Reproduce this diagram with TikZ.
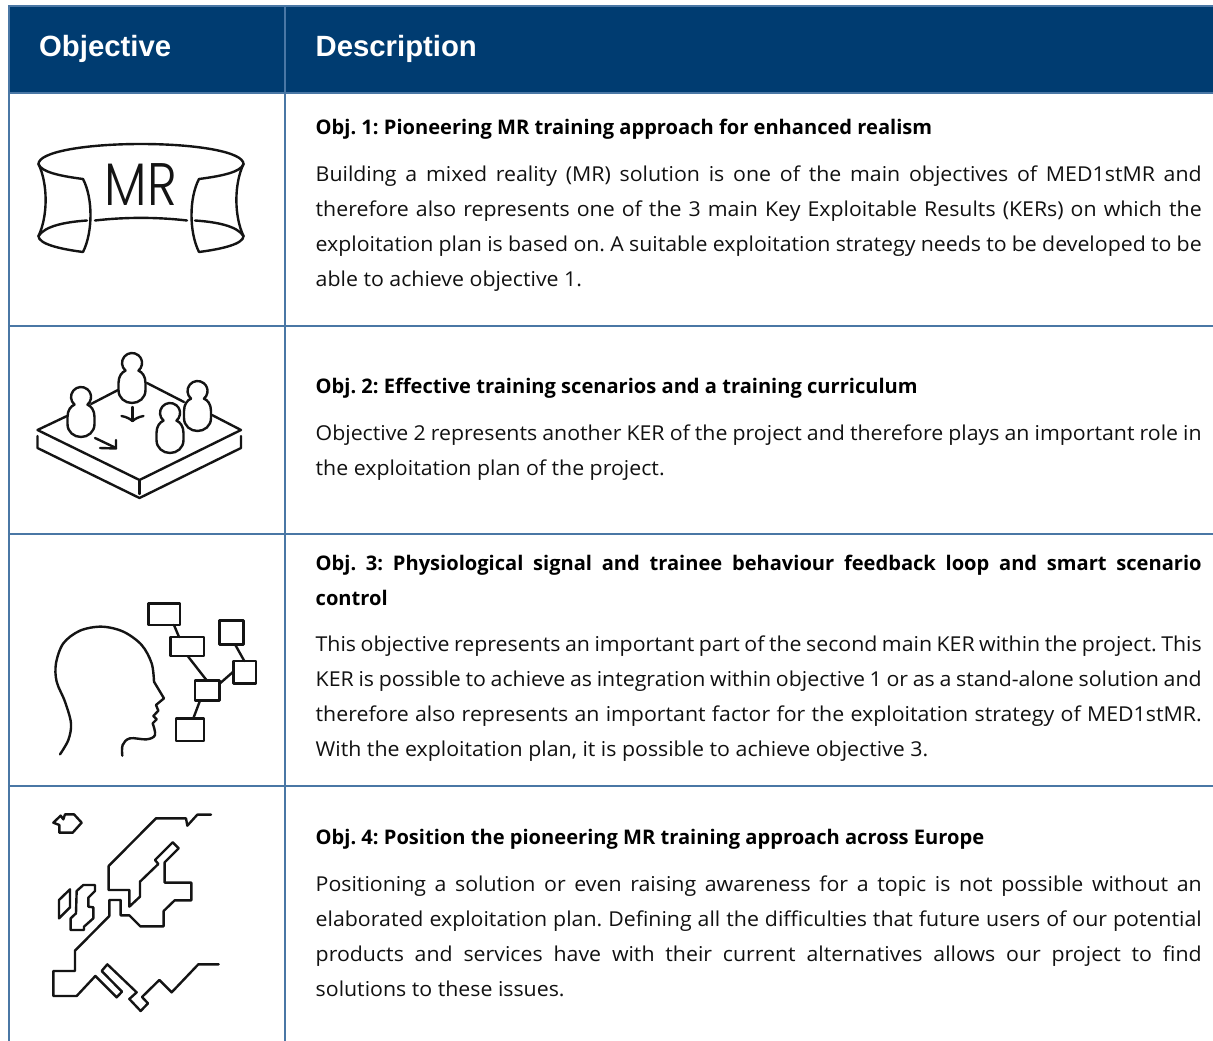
\documentclass[tikz,border=0pt]{standalone}
\usepackage{fontspec}
\setmainfont{Open Sans}
\newfontfamily\bodyfont[FakeStretch=1.04]{Open Sans}
\newfontfamily\headfont{Liberation Sans}
\newfontfamily\mrfont{Poppins Light}
\definecolor{hdr}{HTML}{003C71}
\definecolor{rule}{HTML}{4A77A5}
\definecolor{ink}{HTML}{111111}
\newcommand{\jline}[1]{\hbox to 886pt{#1}}
\frenchspacing
\tikzset{
  x=1pt,y=-1pt,
  bodytext/.style={anchor=base west,inner sep=0pt,text=ink,yshift=-0.5pt,font=\bodyfont\fontsize{20.5}{22}\selectfont},
  titletext/.style={anchor=base west,inner sep=0pt,text=black,font=\fontsize{20.1}{22}\selectfont\bfseries},
  headtext/.style={anchor=base west,inner sep=0pt,text=white,font=\headfont\fontsize{29.3}{32}\selectfont\bfseries},
  gridline/.style={draw=rule,line width=2pt},
  icon/.style={draw=black!92,line width=2.4pt,line join=round,line cap=round},
  person/.pic={
    \draw[icon,fill=white] (-6.4,7.66) arc[start angle=130,end angle=410,radius=10]
      .. controls (10,9) and (13.5,13) .. (13.5,20)
      -- (13.5,27) .. controls (13.5,35) and (7,40) .. (0,40)
      .. controls (-7,40) and (-13.5,35) .. (-13.5,27)
      -- (-13.5,20) .. controls (-13.5,13) and (-10,9) .. (-6.4,7.66);
  }
}
\begin{document}
\begin{tikzpicture}
\useasboundingbox (0,0) rectangle (1213,1041);
\fill[white] (0,0) rectangle (1213,1041);
% header
\fill[hdr] (9,6) rectangle (1213,93);
% grid
\draw[gridline] (1213,6) -- (9,6) -- (9,1041);
\draw[gridline] (285,6) -- (285,1041);
\draw[gridline] (9,93) -- (1213,93);
\draw[gridline] (9,326) -- (1213,326);
\draw[gridline] (9,534) -- (1213,534);
\draw[gridline] (9,786) -- (1213,786);
% header text
\node[headtext] (hobj) at (39,56.5) {Objective};
\node[headtext] (hdesc) at (315.5,56.5) {Description};
% Obj 1
\node[titletext] (t1) at (315.5,134) {Obj. 1: Pioneering MR training approach for enhanced realism};
\node[bodytext] (l11) at (315.5,180.5) {\jline{Building a mixed reality (MR) solution is one of the main objectives of MED1stMR and}};
\node[bodytext] (l12) at (315.5,215.7) {\jline{therefore also represents one of the 3 main Key Exploitable Results (KERs) on which the}};
\node[bodytext] (l13) at (315.5,250.9) {\jline{exploitation plan is based on. A suitable exploitation strategy needs to be developed to be}};
\node[bodytext] (l14) at (315.5,286) {able to achieve objective 1.};
% Obj 2
\node[titletext] (t2) at (315.5,393) {Obj. 2: Effective training scenarios and a training curriculum};
\node[bodytext] (l21) at (315.5,439.5) {\jline{Objective 2 represents another KER of the project and therefore plays an important role in}};
\node[bodytext] (l22) at (315.5,474.5) {the exploitation plan of the project.};
% Obj 3
\node[titletext] (t3) at (315.5,570) {\jline{Obj. 3: Physiological signal and trainee behaviour feedback loop and smart scenario}};
\node[titletext] (t3b) at (315.5,605) {control};
\node[bodytext] (l31) at (315.5,651) {\jline{This objective represents an important part of the second main KER within the project. This}};
\node[bodytext] (l32) at (315.5,686) {\jline{KER is possible to achieve as integration within objective 1 or as a stand-alone solution and}};
\node[bodytext] (l33) at (315.5,721) {\jline{therefore also represents an important factor for the exploitation strategy of MED1stMR.}};
\node[bodytext] (l34) at (315.5,756) {With the exploitation plan, it is possible to achieve objective 3.};
% Obj 4
\node[titletext] (t4) at (315.5,844) {Obj. 4: Position the pioneering MR training approach across Europe};
\node[bodytext] (l41) at (315.5,891) {\jline{Positioning a solution or even raising awareness for a topic is not possible without an}};
\node[bodytext] (l42) at (315.5,926) {\jline{elaborated exploitation plan. Defining all the difficulties that future users of our potential}};
\node[bodytext] (l43) at (315.5,961) {\jline{products and services have with their current alternatives allows our project to find}};
\node[bodytext] (l44) at (315.5,996) {solutions to these issues.};
% MR icon
\node[anchor=base,inner sep=0pt,text=black!92,transform shape,xscale=0.84,font=\mrfont\fontsize{60}{60}\selectfont] (mr) at (141,205) {MR};
\draw[icon] (38.5,164) .. controls (38.5,152) and (85,144) .. (141,144) .. controls (197,144) and (243.5,152) .. (243.5,164);
\draw[icon] (38.5,164) .. controls (41,172) and (60,176) .. (83,179) .. controls (93,198) and (93,232) .. (83,252) .. controls (60,249) and (38.5,244) .. (38.5,236);
\draw[icon] (38.5,164) .. controls (48,184) and (48,216) .. (38.5,236);
\draw[icon] (38.5,236) .. controls (45,226) and (65,222) .. (87,220.5);
\draw[icon] (95,220.5) .. controls (125,217) and (157,217) .. (187,220.5);
\draw[icon] (243.5,164) .. controls (241,172) and (222,176) .. (199,179) .. controls (189,198) and (189,232) .. (199,252) .. controls (222,249) and (243.5,244) .. (243.5,236);
\draw[icon] (243.5,164) .. controls (234,184) and (234,216) .. (243.5,236);
\draw[icon] (243.5,236) .. controls (237,226) and (217,222) .. (195,220.5);
% Platform icon
\draw[icon] (67,416) -- (37.5,430) -- (139.5,480) -- (241,430) -- (212,415);
\draw[icon] (91,404) -- (118,390);
\draw[icon] (147,383) -- (184,402);
\draw[icon] (37.5,436) -- (37.5,448) -- (139.5,498) -- (241,448) -- (241,436);
\draw[icon] (139.5,480) -- (139.5,494);
\pic at (132,363) {person};
\pic at (81,397) {person};
\pic at (197.5,391) {person};
\pic at (170,413) {person};
\draw[icon] (132.5,407) -- (132.5,421);
\draw[icon] (121.5,416) .. controls (127,417) and (130,419) .. (132.5,421) .. controls (135,419) and (138,417) .. (143.5,416);
\draw[icon] (95,438) -- (116,448);
\draw[icon] (100,448) -- (116,448.5) -- (116,440);
% Head icon
\begin{scope}[shift={(0,590)},x=0.33333pt,y=-0.33333pt]
\draw[icon] plot[smooth,tension=0.55] coordinates {(180,493) (205,450) (213,400) (195,335) (170,275) (168,220) (190,160) (240,122) (305,110) (370,125) (425,165) (455,220) (462,275)};
\draw[icon] (462,275) -- (492,325) -- (468,345) -- (475,362) -- (460,378) -- (470,388) -- (458,400);
\draw[icon] plot[smooth,tension=0.6] coordinates {(458,400) (465,435) (440,448) (390,445) (368,465) (367,497)};
\draw[icon] (445,40) rectangle (540,105);
\draw[icon] (511,141) rectangle (612,198);
\draw[icon] (658,92) rectangle (731,163);
\draw[icon] (700,213) rectangle (768,280);
\draw[icon] (585,271) rectangle (658,332);
\draw[icon] (528,385) rectangle (612,453);
\draw[icon] (522,105) -- (537,141);
\draw[icon] (563,198) -- (620,271);
\draw[icon] (705,163) -- (733,213);
\draw[icon] (660,280) -- (700,245);
\draw[icon] (600,332) -- (580,385);
\end{scope}
% Europe icon
\begin{scope}[shift={(0,785)},x=0.33333pt,y=-0.33333pt]
\draw[icon] (160,113) -- (182,92) -- (190,103) -- (195,88) -- (222,88) -- (245,113) -- (218,143) -- (178,143) -- (178,120) -- cycle;
\draw[icon] (177,345) -- (210,313) -- (210,367) -- (177,400) -- cycle;
\draw[icon] (230,318) -- (250,300) -- (285,300) -- (285,318) -- (265,338) -- (265,365) -- (280,367) -- (280,400) -- (252,425) -- (252,435) -- (212,435) -- (212,400) -- (228,385) -- cycle;
\draw[icon] (633,89) -- (592,89) -- (562,122) -- (558,100) -- (468,100) -- (326,243) -- (326,315) -- (388,315) -- (388,365) -- (420,335) -- (420,290) -- (475,237) -- (465,225) -- (518,172) -- (536,190) -- (494,232) -- (494,293) -- (574,293) -- (574,346) -- (524,346) -- (491,378) -- (491,424) -- (421,424) -- (388,391) -- (362,391) -- (362,345) -- (328,345) -- (328,393) -- (225,497) -- (225,558) -- (160,558) -- (160,633) -- (230,633) -- (286,573) -- (350,637) -- (366,620) -- (305,558) -- (322,538) -- (410,622) -- (388,642) -- (422,678) -- (444,655) -- (426,636) -- (478,585) -- (515,622) -- (595,538) -- (656,538);
\end{scope}
\end{tikzpicture}
\end{document}
